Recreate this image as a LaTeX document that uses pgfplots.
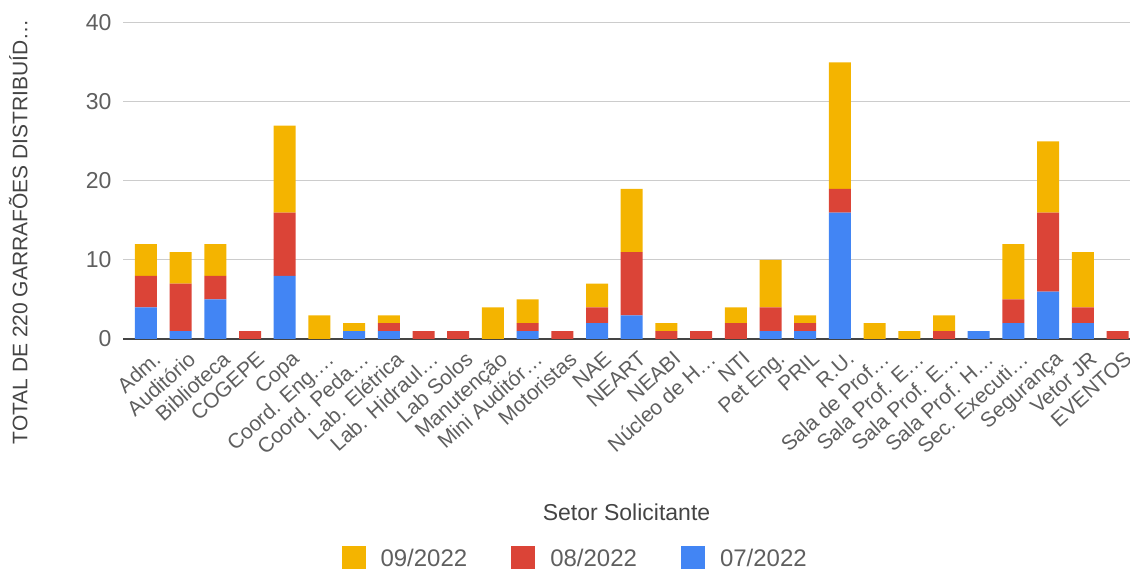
\documentclass[border=0pt]{standalone}
\usepackage{pgfplots}
\usepackage{pgfplotstable}
\pgfplotsset{compat=1.18}
\usepackage{fontspec}
\setmainfont{Liberation Sans}
\definecolor{cyel}{HTML}{F4B400}
\definecolor{cred}{HTML}{DB4437}
\definecolor{cblu}{HTML}{4285F4}
\definecolor{txt}{HTML}{5F5F5F}
\definecolor{txtd}{HTML}{444444}
\pgfplotstableread{
x b r y
0 4 4 4
1 1 6 4
2 5 3 4
3 0 1 0
4 8 8 11
5 0 0 3
6 1 0 1
7 1 1 1
8 0 1 0
9 0 1 0
10 0 0 4
11 1 1 3
12 0 1 0
13 2 2 3
14 3 8 8
15 0 1 1
16 0 1 0
17 0 2 2
18 1 3 6
19 1 1 1
20 16 3 16
21 0 0 2
22 0 0 1
23 0 1 2
24 1 0 0
25 2 3 7
26 6 10 9
27 2 2 7
28 0 1 0
}\data
\begin{document}
\begin{tikzpicture}
\useasboundingbox (0,0) rectangle (1130bp,572bp);
\begin{axis}[
  at={(123bp,233bp)}, anchor=south west,
  scale only axis, width=1007bp, height=316bp,
  ybar stacked, bar width=22bp,
  xmin=-0.66, xmax=28.36, ymin=0, ymax=40,
  ytick={0,10,20,30,40},
  xtick={0,...,28},
  xticklabels={Adm.,Auditório,Biblioteca,COGEPE,Copa,Coord. Eng.…,Coord. Peda…,Lab. Elétrica,Lab. Hidraul…,Lab Solos,Manutenção,Mini Auditór…,Motoristas,NAE,NEART,NEABI,Núcleo de H…,NTI,Pet Eng.,PRIL,R.U.,Sala de Prof…,Sala Prof. E…,Sala Prof. E…,Sala Prof. H…,Sec. Executi…,Segurança,Vetor JR,EVENTOS},
  /pgf/number format/assume math mode=true,
  major tick length=0pt,
  axis x line*=bottom, axis y line*=left,
  x axis line style={draw=txtd, line width=1.5bp, -},
  y axis line style={draw=none},
  ymajorgrids, grid style={draw=black!20, line width=1bp},
  yticklabel style={font=\fontsize{23bp}{27bp}\selectfont, text=txt, anchor=east, xshift=-8bp},
  xticklabel style={font=\fontsize{21bp}{24bp}\selectfont, text=txt, rotate=42, anchor=north east, inner sep=1bp, xshift=-2bp, yshift=-11bp},
  xlabel={Setor Solicitante},
  xlabel style={font=\fontsize{23bp}{27bp}\selectfont, text=txtd, at={(axis description cs:0.5,-0.547)}, anchor=center},
  ylabel={TOTAL DE 220 GARRAFÕES DISTRIBUÍD…},
  ylabel style={font=\fontsize{21bp}{25bp}\selectfont, text=txtd, at={(axis description cs:-0.104,0.339)}, anchor=center},
  reverse legend,
  legend columns=3,
  legend image code/.code={\fill[#1] (0bp,-11bp) rectangle (24bp,12bp);},
  legend style={at={(axis description cs:0.449,-0.693)}, anchor=center, draw=none, fill=none,
    font=\fontsize{24bp}{28bp}\selectfont, text=txt,
    /tikz/every even column/.append style={column sep=42bp},
    /tikz/every odd column/.append style={column sep=13bp}},
]
\addplot[fill=cblu, draw=none] table[x=x, y=b] {\data};
\addlegendentry{07/2022}
\addplot[fill=cred, draw=none] table[x=x, y=r] {\data};
\addlegendentry{08/2022}
\addplot[fill=cyel, draw=none] table[x=x, y=y] {\data};
\addlegendentry{09/2022}
\end{axis}
\end{tikzpicture}
\end{document}
